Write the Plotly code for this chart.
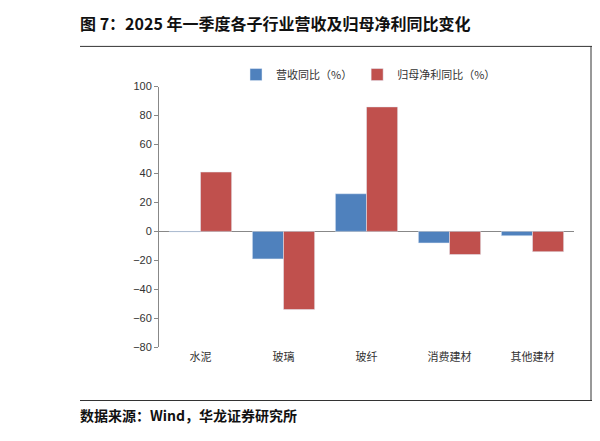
import plotly.graph_objects as go

categories = ["水泥", "玻璃", "玻纤", "消费建材", "其他建材"]
revenue = [-0.5, -19, 26, -8, -3]
profit = [41, -54, 86, -16, -14]
yticks = [100, 80, 60, 40, 20, 0, -20, -40, -60, -80]

W, H = 600, 441
font = "Noto Sans CJK SC"


def py(y_ref):
    return 1 - ((y_ref - 15.8) / 0.967) / H


fig = go.Figure()
fig.add_bar(x=categories, y=revenue, name="营收同比（%）", marker_color="#4F81BD")
fig.add_bar(x=categories, y=profit, name="归母净利同比（%）", marker_color="#C0504D")

fig.update_layout(
    width=W, height=H, margin=dict(l=0, r=0, t=0, b=0),
    paper_bgcolor="white", plot_bgcolor="white",
    barmode="group", bargap=0.25, bargroupgap=0.0,
    font=dict(family=font, size=11, color="#333"),
    legend=dict(orientation="h", x=0.38, y=py(76), xanchor="left", yanchor="middle",
                font=dict(size=11, color="#333"), itemwidth=30, traceorder="normal"),
    xaxis=dict(domain=[151 / W, 566 / W], showline=False, ticks="", tickfont=dict(size=11),
               anchor="y", ticklabelstandoff=2),
    yaxis=dict(domain=[py(347), py(88)], range=[-80, 100], tickvals=yticks,
               showgrid=False, zeroline=True, zerolinecolor="#888", zerolinewidth=1,
               showline=True, linecolor="#888", ticks="outside", ticklen=4, tickcolor="#888",
               tickfont=dict(family="Liberation Sans", size=11, color="#333")),
    showlegend=True,
)

fig.add_annotation(text="<b>图 7：2025 年一季度各子行业营收及归母净利同比变化</b>", xref="paper", yref="paper",
                   x=70 / W, y=py(25), xanchor="left", yanchor="middle", showarrow=False,
                   font=dict(size=16, color="#111", family=font))
fig.add_annotation(text="<b>数据来源：Wind，华龙证券研究所</b>", xref="paper", yref="paper",
                   x=70 / W, y=py(414), xanchor="left", yanchor="middle", showarrow=False,
                   font=dict(size=14, color="#111", family=font))
fig.add_shape(type="line", xref="paper", yref="paper", x0=72 / W, x1=1, y0=py(48), y1=py(48),
              line=dict(color="#333", width=1))
fig.add_shape(type="line", xref="paper", yref="paper", x0=72 / W, x1=1, y0=py(400), y1=py(400),
              line=dict(color="#333", width=1))
fig.add_shape(type="line", xref="paper", yref="paper", x0=583 / W, x1=583 / W, y0=py(400), y1=py(48),
              line=dict(color="#333", width=1))
fig.write_html("out.html")
